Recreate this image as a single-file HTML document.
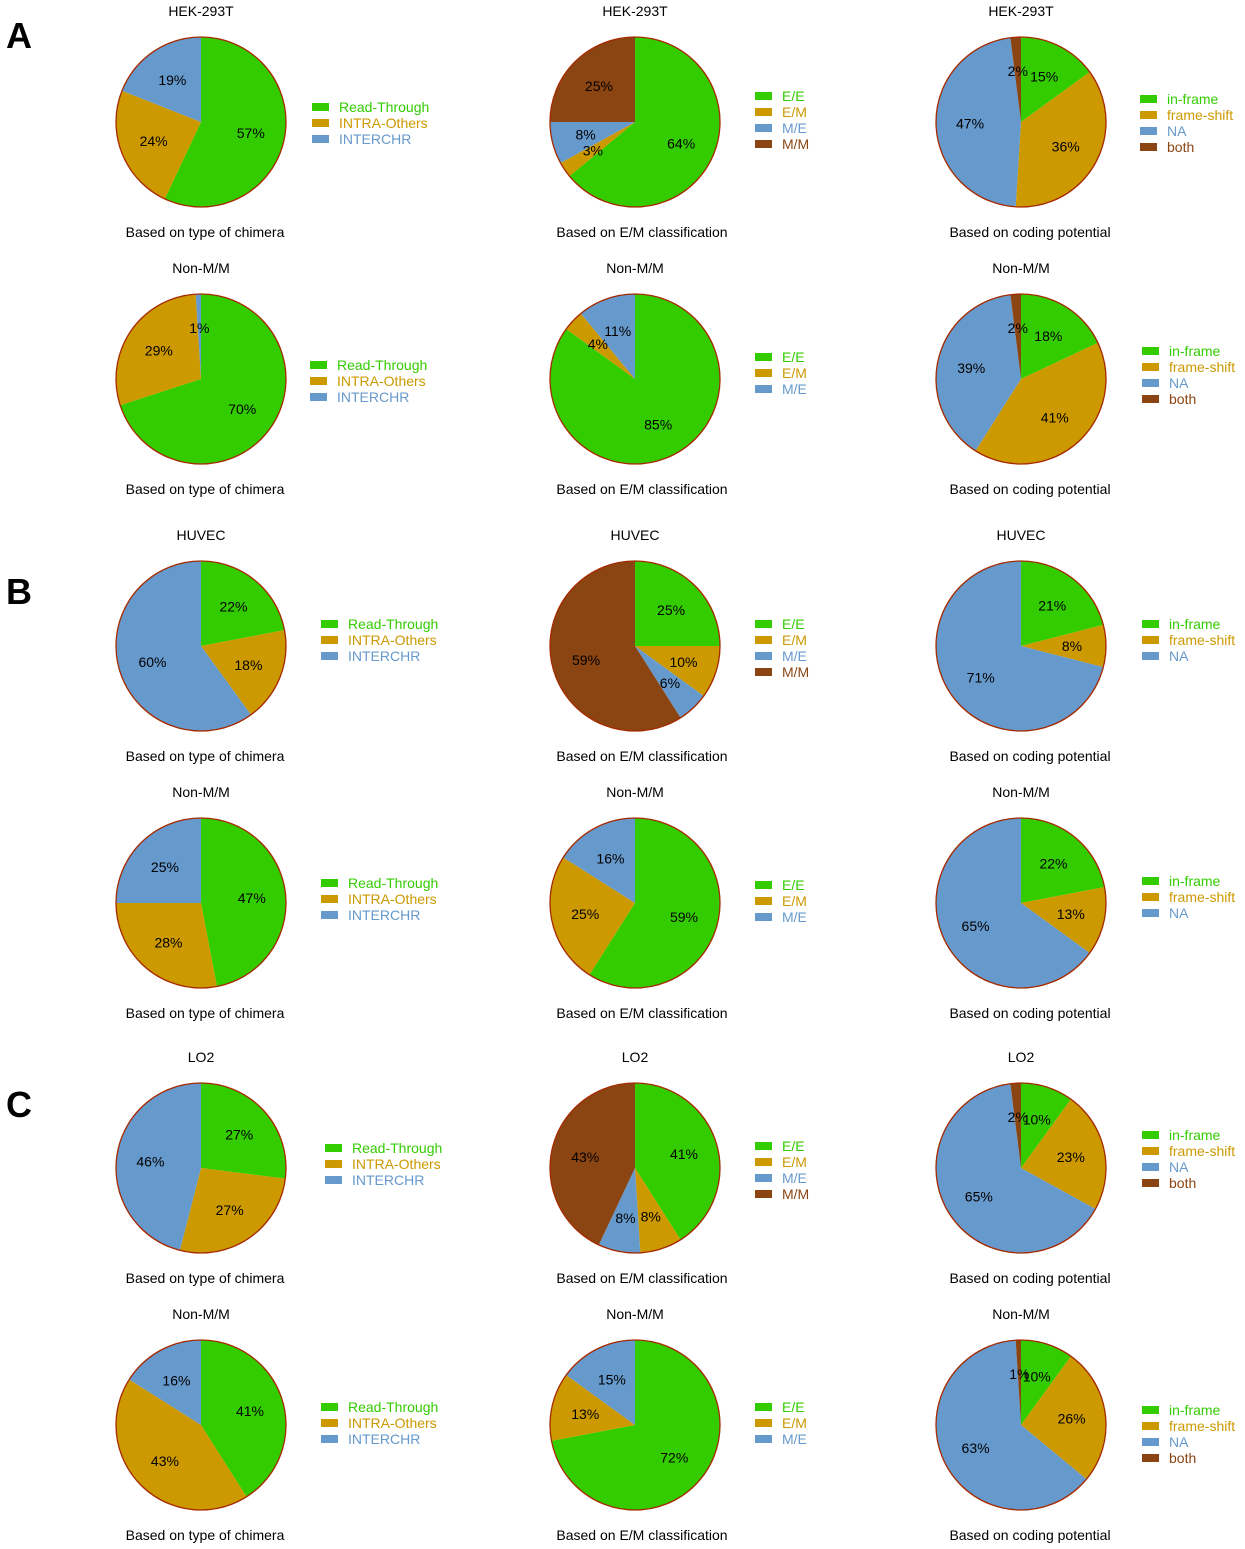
<!DOCTYPE html>
<html><head><meta charset="utf-8">
<style>
html,body{margin:0;padding:0;background:#fff;}
svg{display:block;font-family:"Liberation Sans",Arial,sans-serif;}
</style></head>
<body>
<svg id="fig" width="1245" height="1549" viewBox="0 0 1245 1549">
<text x="6" y="48" font-size="36" font-weight="bold">A</text>
<text x="6" y="604" font-size="36" font-weight="bold">B</text>
<text x="6" y="1117" font-size="36" font-weight="bold">C</text>
</svg>
<script>
const typeCats = ["Read-Through","INTRA-Others","INTERCHR"];
const emCats4 = ["E/E","E/M","M/E","M/M"];
const emCats3 = ["E/E","E/M","M/E"];
const codeCats4 = ["in-frame","frame-shift","NA","both"];
const codeCats3 = ["in-frame","frame-shift","NA"];
const rowTitles = ["HEK-293T","Non-M/M","HUVEC","Non-M/M","LO2","Non-M/M"];
const captions = ["Based on type of chimera","Based on E/M classification","Based on coding potential"];
const hekType = [57,24,19];
const hekEM = [64,3,8,25];
const hekCode = [15,36,47,2];
const hekNonType = [70,29,1];
const hekNonEM = [85,4,11];
const hekNonCode = [18,41,39,2];
const huvecType = [22,18,60];
const huvecEM = [25,10,6,59];
const huvecCode = [21,8,71];
const huvecNonType = [47,28,25];
const huvecNonEM = [59,25,16];
const huvecNonCode = [22,13,65];
const lo2Type = [27,27,46];
const lo2EM = [41,8,8,43];
const lo2Code = [10,23,65,2];
const lo2NonType = [41,43,16];
const lo2NonEM = [72,13,15];
const lo2NonCode = [10,26,63,1];

const colors = ["#33cc00","#cc9900","#6699cc","#8b4513"];
const NS = "http://www.w3.org/2000/svg";
const svg = document.getElementById("fig");
const colX = [201,635,1021];
const capX = [205,642,1030];
const rowY = [122,379,646,903,1168,1425];
const R = 85;
const legendPos = [
 [[312,107],[755,96],[1140,99]],
 [[310,365],[755,357],[1142,351]],
 [[321,624],[755,624],[1142,624]],
 [[321,883],[755,885],[1142,881]],
 [[325,1148],[755,1146],[1142,1135]],
 [[321,1407],[755,1407],[1142,1410]]
];
const charts = [
 [[hekType,typeCats],[hekEM,emCats4],[hekCode,codeCats4]],
 [[hekNonType,typeCats],[hekNonEM,emCats3],[hekNonCode,codeCats4]],
 [[huvecType,typeCats],[huvecEM,emCats4],[huvecCode,codeCats3]],
 [[huvecNonType,typeCats],[huvecNonEM,emCats3],[huvecNonCode,codeCats3]],
 [[lo2Type,typeCats],[lo2EM,emCats4],[lo2Code,codeCats4]],
 [[lo2NonType,typeCats],[lo2NonEM,emCats3],[lo2NonCode,codeCats4]]
];
function mk(tag, attrs, parent){
  const e = document.createElementNS(NS, tag);
  for (const k in attrs) e.setAttribute(k, attrs[k]);
  (parent||svg).appendChild(e);
  return e;
}
function pt(cx,cy,r,frac){const a=frac*2*Math.PI;return [cx+r*Math.sin(a),cy-r*Math.cos(a)];}
for (let r=0;r<6;r++){
  for (let c=0;c<3;c++){
    const [vals,cats]=charts[r][c];
    const cx=colX[c], cy=rowY[r];
    const g=mk("g",{});
    
    
    const t=mk("text",{x:cx,y:cy-106,"font-size":14,"text-anchor":"middle",fill:"#000"},g);
    t.textContent=rowTitles[r];
    
    
    const cap=mk("text",{x:capX[c],y:cy+115,"font-size":14,"text-anchor":"middle",fill:"#000"},g);
    cap.textContent=captions[c];
    
    
    const total=vals.reduce((a,b)=>a+b,0);
    let acc=0;
    vals.forEach((v,i)=>{
      const f0=acc/total, f1=(acc+v)/total; acc+=v;
      const p0=pt(cx,cy,R,f0), p1=pt(cx,cy,R,f1);
      const large=(f1-f0)>0.5?1:0;
      const d=`M${cx},${cy} L${p0[0]},${p0[1]} A${R},${R} 0 ${large} 1 ${p1[0]},${p1[1]} Z`;
      const s=mk("path",{d:d,fill:colors[i],stroke:"none"},g);
      
      
    });
    acc=0;
    vals.forEach((v,i)=>{
      const fm=(acc+v/2)/total; acc+=v;
      const lp=pt(cx,cy,R*0.6,fm);
      const l=mk("text",{x:lp[0],y:lp[1]+5,"font-size":14,"text-anchor":"middle",fill:"#000"},g);
      l.textContent=v+"%";
      
      
    });
    const o=mk("circle",{cx:cx,cy:cy,r:R,fill:"none",stroke:"#a52a00","stroke-width":1.3},g);
    
    
    const [lx,ly]=legendPos[r][c];
    cats.forEach((name,i)=>{
      const y=ly+i*16;
      const rc=mk("rect",{x:lx,y:y-4,width:17,height:8,fill:colors[i]},g);
      
      
      const lt=mk("text",{x:lx+27,y:y+5,"font-size":14,fill:colors[i]},g);
      lt.textContent=name;
      
      
    });
  }
}
</script>
</body></html>
